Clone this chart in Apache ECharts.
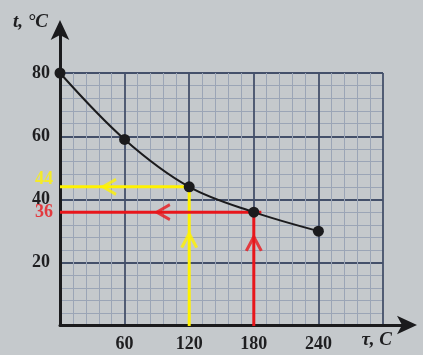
<!DOCTYPE html>
<html>
<head>
<meta charset="UTF-8">
<title>t(τ)</title>
<script src="https://cdn.jsdelivr.net/npm/echarts@6/dist/echarts.min.js"></script>
<style>
  html, body { margin: 0; padding: 0; background: #c5c9cc; }
  #chart { width: 423px; height: 355px; }
</style>
</head>
<body>
<div id="chart"></div>
<script>
// measured points of the cooling curve
var times = [0, 60, 120, 180, 240];
var temps = [80, 59, 44, 36, 30];
var xTicks = [60, 120, 180, 240];
var yTicks = [20, 40, 60, 80];

// read-off guides (yellow at 120 s, red at 180 s)
var readX = [120, 180];
var readY = [44, 36];
var readColors = ['#fff200', '#e8161b'];
var redTail = 187;            // red horizontal line runs a bit past the point
var upHeads = [27, 26];       // where the upward arrowheads sit (temperature)
var leftHeads = [46, 96];     // where the leftward arrowheads sit (time)

var serif = '"Liberation Serif", "DejaVu Serif", serif';
var chart = echarts.init(document.getElementById('chart'));

var curve = times.map(function (t, i) { return [t, temps[i]]; });

var chevron = 'path://M0,12 L8,0 L16,12';

var series = [];

// yellow guide
series.push({
    type: 'line', xAxisIndex: 0, yAxisIndex: 0, silent: true, symbol: 'none', z: 3,
    data: [[readX[0], 0], [readX[0], readY[0]], [0, readY[0]]],
    lineStyle: { color: readColors[0], width: 3 }
});
// red guide
series.push({
    type: 'line', xAxisIndex: 0, yAxisIndex: 0, silent: true, symbol: 'none', z: 3,
    data: [[readX[1], 0], [readX[1], readY[1]]],
    lineStyle: { color: readColors[1], width: 3 }
});
series.push({
    type: 'line', xAxisIndex: 0, yAxisIndex: 0, silent: true, symbol: 'none', z: 3,
    data: [[redTail, readY[1]], [0, readY[1]]],
    lineStyle: { color: readColors[1], width: 3 }
});

// arrowheads
readX.forEach(function (x, i) {
    series.push({
        type: 'scatter', xAxisIndex: 0, yAxisIndex: 0, silent: true, z: 4,
        symbol: chevron, symbolSize: [15, 14],
        data: [[x, upHeads[i]]],
        itemStyle: { color: 'rgba(0,0,0,0)', borderColor: readColors[i], borderWidth: 3 }
    });
    series.push({
        type: 'scatter', xAxisIndex: 0, yAxisIndex: 0, silent: true, z: 4,
        symbol: chevron, symbolSize: [15, 13], symbolRotate: 90,
        data: [[leftHeads[i], readY[i]]],
        itemStyle: { color: 'rgba(0,0,0,0)', borderColor: readColors[i], borderWidth: 3 }
    });
    // coloured value on the t axis
    series.push({
        type: 'scatter', xAxisIndex: 0, yAxisIndex: 0, silent: true, z: 5,
        symbolSize: 0,
        data: [[0, readY[i]]],
        label: {
            show: true, position: 'left', distance: 7,
            offset: i === 0 ? [0, -8] : [0, 0],
            formatter: String(readY[i]),
            color: readColors[i], fontFamily: serif, fontWeight: 'bold', fontSize: 18
        }
    });
});

// the curve itself
series.push({
    type: 'line', xAxisIndex: 0, yAxisIndex: 0, silent: true, z: 6,
    data: curve, smooth: 0.35,
    symbol: 'circle', symbolSize: 11, showSymbol: true,
    lineStyle: { color: '#1b1b1d', width: 2 },
    itemStyle: { color: '#1b1b1d' }
});

chart.setOption({
    backgroundColor: '#c5c9cc',
    animation: false,
    grid: [
        { left: 60, right: 40, top: 73, bottom: 29 },
        { left: 60, right: 17, top: 31, bottom: 30 }
    ],
    xAxis: [{
        gridIndex: 0, type: 'value', min: 0, max: 300, interval: 60,
        axisLine: { show: false }, axisTick: { show: false },
        axisLabel: {
            margin: 9, color: '#1e1e20', fontFamily: serif, fontWeight: 'bold', fontSize: 18,
            formatter: function (v) { return xTicks.indexOf(v) >= 0 ? v : ''; }
        },
        splitLine: { show: true, lineStyle: { color: '#44506a', width: 1.8 } },
        minorTick: { show: false, splitNumber: 5 },
        minorSplitLine: { show: true, lineStyle: { color: '#9ba5b6', width: 1 } }
    }, {
        gridIndex: 1, type: 'value', min: 0, max: 100,
        axisLine: { show: true, symbol: ['none', 'arrow'], symbolSize: [14, 20], symbolOffset: [0, 11],
            lineStyle: { color: '#1b1b1d', width: 3 } },
        axisTick: { show: false }, axisLabel: { show: false }, splitLine: { show: false },
        name: 'τ, C', nameLocation: 'end', nameGap: 0,
        nameTextStyle: { fontFamily: serif, fontStyle: 'italic', fontWeight: 'bold', fontSize: 19,
            color: '#1e1e20', align: 'right', verticalAlign: 'top', padding: [6, 14, 0, 0] }
    }],
    yAxis: [{
        gridIndex: 0, type: 'value', min: 0, max: 80, interval: 20,
        axisLine: { show: false },
        axisTick: { show: false },
        axisLabel: {
            margin: 10, color: '#1e1e20', fontFamily: serif, fontWeight: 'bold', fontSize: 18,
            formatter: function (v) { return yTicks.indexOf(v) >= 0 ? v : ''; }
        },
        splitLine: { show: true, lineStyle: { color: '#44506a', width: 1.8 } },
        minorTick: { show: false, splitNumber: 5 },
        minorSplitLine: { show: true, lineStyle: { color: '#9ba5b6', width: 1 } }
    }, {
        gridIndex: 1, type: 'value', min: 0, max: 100,
        axisLine: { show: true, symbol: ['none', 'arrow'], symbolSize: [14, 20], symbolOffset: [0, 11],
            lineStyle: { color: '#1b1b1d', width: 3 } },
        axisTick: { show: false }, axisLabel: { show: false }, splitLine: { show: false },
        name: 't, °C', nameLocation: 'end', nameGap: 9,
        nameTextStyle: { fontFamily: serif, fontStyle: 'italic', fontWeight: 'bold', fontSize: 19,
            color: '#1e1e20', align: 'right', verticalAlign: 'middle', padding: [0, 12, 0, 0] }
    }],
    series: series
});
</script>
</body>
</html>
